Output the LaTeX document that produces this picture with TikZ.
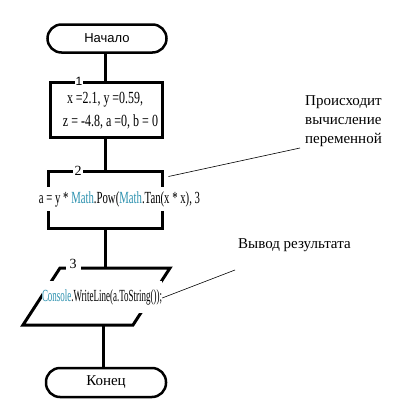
\documentclass[tikz,border=0pt]{standalone}
\usepackage{fontspec}
\usepackage{graphicx}
\setmainfont{Liberation Serif}
\newfontfamily\arialf{Liberation Sans}
\usetikzlibrary{calc}
\definecolor{csblue}{HTML}{2B91AF}
\tikzset{
  thk/.style={line width=3pt},
  term/.style={draw, line width=2.5pt, rounded corners=14pt, minimum width=119pt, minimum height=28pt, inner sep=0pt},
  blk/.style={draw, line width=3pt, inner sep=0pt},
  lbl/.style={fill=white, inner sep=1.5pt, font=\fontsize{13}{14}\selectfont},
  code/.style={inner sep=0pt, font=\fontsize{17}{19}\selectfont},
  note/.style={font=\fontsize{15}{19}\selectfont, align=left, inner sep=0pt},
  thin/.style={line width=0.6pt}
}
\begin{document}
\begin{tikzpicture}[x=1pt,y=-1pt]
\useasboundingbox[fill=white] (0,0) rectangle (402,415);
% terminators
\node[term, font=\arialf\fontsize{13}{15}\selectfont] (start) at (107,38.5) {Начало};
\node[term, font=\fontsize{15}{17}\selectfont, minimum width=120pt, minimum height=29pt] (end) at (106,382.5) {Конец};
% block 1
\node[blk, minimum width=112pt, minimum height=55pt] (b1) at (106,109.5) {};
\draw[thk] (b1.north -| 105,0) -- (start.south -| 105,0);
\node[lbl, font=\arialf\fontsize{12}{13}\selectfont, inner sep=1pt] (l1) at (79,81) {1};
\node[code] (t1a) at (105,100) {\resizebox{76pt}{\height}{x =2.1, y =0.59,}};
\node[code] (t1b) at (110.5,122) {\resizebox{95pt}{\height}{z = -4.8, a =0, b = 0}};
% block 2
\node[blk, minimum width=114pt, minimum height=57pt] (b2) at (105,199.5) {};
\draw[thk] (b1.south -| 105,0) -- (b2.north -| 105,0);
\node[lbl, font=\fontsize{14}{15}\selectfont] (l2) at (78,171) {2};
\node[code, fill=white, inner ysep=4pt] (t2) at (119.5,199) {\resizebox{161pt}{\height}{a = y * \textcolor{csblue}{Math}.Pow(\textcolor{csblue}{Math}.Tan(x * x), 3}};
% block 3 (parallelogram)
\coordinate (b3tl) at (60,268);
\coordinate (b3tr) at (170,268);
\coordinate (b3br) at (133,325);
\coordinate (b3bl) at (23,325);
\coordinate (b3top) at (105,268);
\coordinate (b3bot) at (103,325);
\draw[thk, line join=miter] (b3tl) -- (b3tr) -- (b3br) -- (b3bl) -- cycle;
\draw[thk] (b2.south -| 105,0) -- (b3top);
\node[lbl, font=\fontsize{14}{15}\selectfont, inner xsep=4pt] (l3) at (73,264) {3};
\node[code, fill=white, inner ysep=8pt] (t3) at (102,297) {\resizebox{120pt}{\height}{\textcolor{csblue}{Console}.WriteLine(a.ToString());}};
\draw[thk] (b3bot) -- (end.north -| 103,0);
% notes
\node[note, anchor=north west] (n1) at (305,95) {Происходит\\вычисление\\переменной};
\node[note, anchor=west] (n2) at (238,245) {Вывод результата};
\coordinate (n1end) at (300,148);
\coordinate (n2end) at (235,270);
\draw[thin] (b2.north east) ++(5,7) coordinate (n1start) -- (n1end);
\draw[thin] (t3.east) ++(0,1) coordinate (n2start) -- (n2end);
\end{tikzpicture}
\end{document}
